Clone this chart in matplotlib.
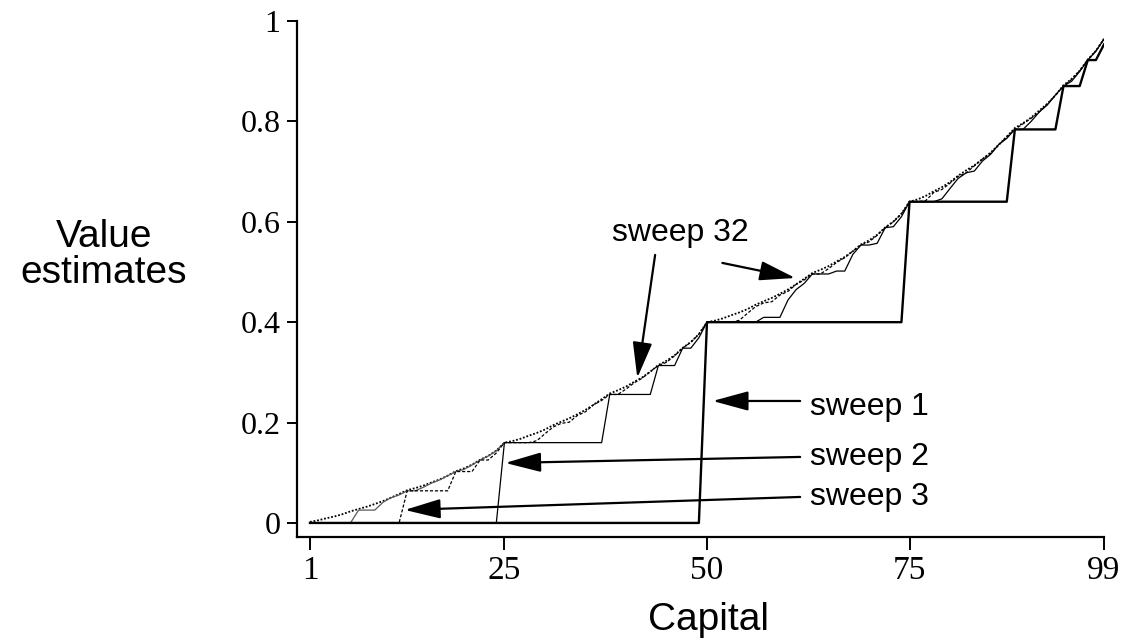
import matplotlib
matplotlib.use("Agg")
import matplotlib.pyplot as plt

# capital 1..99
capital = list(range(1, 100))

sweep1 = [0, 0, 0, 0, 0, 0, 0, 0, 0, 0, 0, 0, 0, 0, 0, 0, 0, 0, 0, 0,
          0, 0, 0, 0, 0, 0, 0, 0, 0, 0, 0, 0, 0, 0, 0, 0, 0, 0, 0, 0,
          0, 0, 0, 0, 0, 0, 0, 0, 0, 0.4, 0.4, 0.4, 0.4, 0.4, 0.4, 0.4, 0.4, 0.4, 0.4, 0.4,
          0.4, 0.4, 0.4, 0.4, 0.4, 0.4, 0.4, 0.4, 0.4, 0.4, 0.4, 0.4, 0.4, 0.4, 0.64, 0.64, 0.64, 0.64, 0.64, 0.64,
          0.64, 0.64, 0.64, 0.64, 0.64, 0.64, 0.64, 0.784, 0.784, 0.784, 0.784, 0.784, 0.784, 0.8704, 0.8704, 0.8704, 0.9222, 0.9222, 0.9533]

sweep2 = [0, 0, 0, 0, 0, 0, 0, 0, 0, 0, 0, 0, 0, 0, 0, 0, 0, 0, 0, 0,
          0, 0, 0, 0, 0.16, 0.16, 0.16, 0.16, 0.16, 0.16, 0.16, 0.16, 0.16, 0.16, 0.16, 0.16, 0.16, 0.256, 0.256, 0.256,
          0.256, 0.256, 0.256, 0.3136, 0.3136, 0.3136, 0.3482, 0.3482, 0.3689, 0.4, 0.4, 0.4, 0.4, 0.4, 0.4, 0.4, 0.4096, 0.4096, 0.4096, 0.4442,
          0.4649, 0.4773, 0.496, 0.496, 0.496, 0.5018, 0.5018, 0.5349, 0.5536, 0.5536, 0.5571, 0.5882, 0.5902, 0.6101, 0.64, 0.64, 0.64, 0.64, 0.6458, 0.6665,
          0.6864, 0.6976, 0.7011, 0.7210, 0.7342, 0.7539, 0.7661, 0.784, 0.784, 0.7999, 0.8186, 0.8326, 0.8524, 0.8704, 0.8799, 0.8995, 0.9222, 0.9397, 0.9638]

sweep3 = [0, 0, 0, 0, 0, 0, 0, 0, 0, 0, 0, 0, 0.064, 0.064, 0.064, 0.064, 0.064, 0.064, 0.1024, 0.1024,
          0.1024, 0.1254, 0.1254, 0.1393, 0.16, 0.16, 0.16, 0.16, 0.1638, 0.1777, 0.1909, 0.1984, 0.2007, 0.2140, 0.2214, 0.2353, 0.2441, 0.256, 0.256, 0.2666,
          0.2790, 0.2884, 0.3016, 0.3136, 0.3200, 0.3330, 0.3482, 0.3598, 0.3759, 0.4, 0.4, 0.4, 0.4, 0.4038, 0.4177, 0.4309, 0.4384, 0.4407, 0.4540, 0.4614,
          0.4753, 0.4841, 0.496, 0.496, 0.5066, 0.5190, 0.5284, 0.5416, 0.5536, 0.5600, 0.5730, 0.5882, 0.5998, 0.6159, 0.64, 0.64, 0.6423, 0.6586, 0.6644, 0.6769,
          0.6904, 0.6976, 0.7114, 0.7250, 0.7360, 0.7529, 0.7695, 0.784, 0.7951, 0.8061, 0.8186, 0.8350, 0.8517, 0.8704, 0.8837, 0.9010, 0.9222, 0.9406, 0.9644]

# unlabelled thin curve visible only at low capital
capital4 = list(range(1, 26))
sweep4 = [0, 0, 0, 0, 0, 0, 0.0256, 0.0256, 0.0256, 0.041, 0.0502, 0.0557, 0.064, 0.064, 0.0711, 0.0794, 0.0856, 0.0941, 0.1024, 0.1066,
          0.1154, 0.1254, 0.1332, 0.1439, 0.16]

sweep32 = [0.0021, 0.0052, 0.0092, 0.0129, 0.0174, 0.0231, 0.0278, 0.0323, 0.0377, 0.0435, 0.0504, 0.0577, 0.0652, 0.0695, 0.0744, 0.0807, 0.0866, 0.0942, 0.1031, 0.1087,
           0.1160, 0.1259, 0.1336, 0.1441, 0.16, 0.1631, 0.1677, 0.1738, 0.1794, 0.1861, 0.1946, 0.2017, 0.2084, 0.2165, 0.2252, 0.2355, 0.2465, 0.2579, 0.2643, 0.2716,
           0.2810, 0.2899, 0.3013, 0.3147, 0.3230, 0.3340, 0.3488, 0.3604, 0.3762, 0.4, 0.4031, 0.4077, 0.4138, 0.4194, 0.4261, 0.4346, 0.4417, 0.4484, 0.4565, 0.4652,
           0.4755, 0.4865, 0.4979, 0.5043, 0.5116, 0.5210, 0.5299, 0.5413, 0.5547, 0.5630, 0.5740, 0.5888, 0.6004, 0.6162, 0.64, 0.6446, 0.6516, 0.6608, 0.6690, 0.6791,
           0.6919, 0.7026, 0.7126, 0.7248, 0.7378, 0.7533, 0.7697, 0.7868, 0.7965, 0.8075, 0.8215, 0.8349, 0.8520, 0.8721, 0.8845, 0.9009, 0.9232, 0.9406, 0.9643]

x_ticks = [1, 25, 50, 75, 99]
y_ticks = [0, 0.2, 0.4, 0.6, 0.8, 1]
y_ticklabels = ["0", "0.2", "0.4", "0.6", "0.8", "1"]

serif = "Liberation Serif"
sans = "Liberation Sans"

fig = plt.figure(figsize=(11.22, 6.44), dpi=100)
ax = fig.add_axes([297 / 1122, 107 / 644, 807 / 1122, 516 / 644])

ax.plot(capital, sweep32, color="black", lw=1.3, linestyle=(0, (1, 1)))
ax.plot(capital4, sweep4, color="0.35", lw=0.9)
ax.plot(capital, sweep3, color="black", lw=0.9, linestyle=(0, (2.5, 1.5)))
ax.plot(capital, sweep2, color="black", lw=0.9)
ax.plot(capital, sweep1, color="black", lw=1.7)

ax.set_xlim(-0.6, 99)
ax.set_ylim(-0.028, 1.0)

for side in ["top", "right"]:
    ax.spines[side].set_visible(False)
for side in ["left", "bottom"]:
    ax.spines[side].set_linewidth(1.6)

ax.set_xticks(x_ticks)
ax.set_yticks(y_ticks)
ax.set_yticklabels(y_ticklabels)
ax.tick_params(axis="y", direction="out", length=7, width=1.4, pad=5, labelsize=23)
ax.tick_params(axis="x", direction="out", length=9, width=1.4, pad=4, labelsize=24)
for lab in ax.get_xticklabels() + ax.get_yticklabels():
    lab.set_fontfamily(serif)

fig.text(104 / 1122, 1 - 255 / 644, "Value\nestimates", fontsize=28, family=sans,
         ha="center", va="center", linespacing=1.0)
fig.text(708 / 1122, 1 - 620 / 644, "Capital", fontsize=28, family=sans,
         ha="center", va="center")

arrow = dict(arrowstyle="-|>,head_length=1.1,head_width=0.3", color="black",
             lw=1.6, shrinkA=0, shrinkB=0, mutation_scale=20)

# labels and arrows
ax.text(62.7, 0.231, "sweep 1", fontsize=23, family=sans, va="center", ha="left")
ax.annotate("", xy=(50.7, 0.243), xytext=(61.5, 0.243), arrowprops=arrow)

ax.text(62.7, 0.1315, "sweep 2", fontsize=23, family=sans, va="center", ha="left")
ax.annotate("", xy=(25.1, 0.1195), xytext=(61.5, 0.1315), arrowprops=arrow)

ax.text(62.7, 0.0518, "sweep 3", fontsize=23, family=sans, va="center", ha="left")
ax.annotate("", xy=(12.7, 0.0259), xytext=(61.5, 0.0518), arrowprops=arrow)

ax.text(38.3, 0.578, "sweep 32", fontsize=23, family=sans, va="center", ha="left")
ax.annotate("", xy=(41.4, 0.289), xytext=(43.6, 0.534), arrowprops=arrow)
ax.annotate("", xy=(60.9, 0.488), xytext=(51.9, 0.518), arrowprops=arrow)

fig.savefig("out.png", dpi=100)
